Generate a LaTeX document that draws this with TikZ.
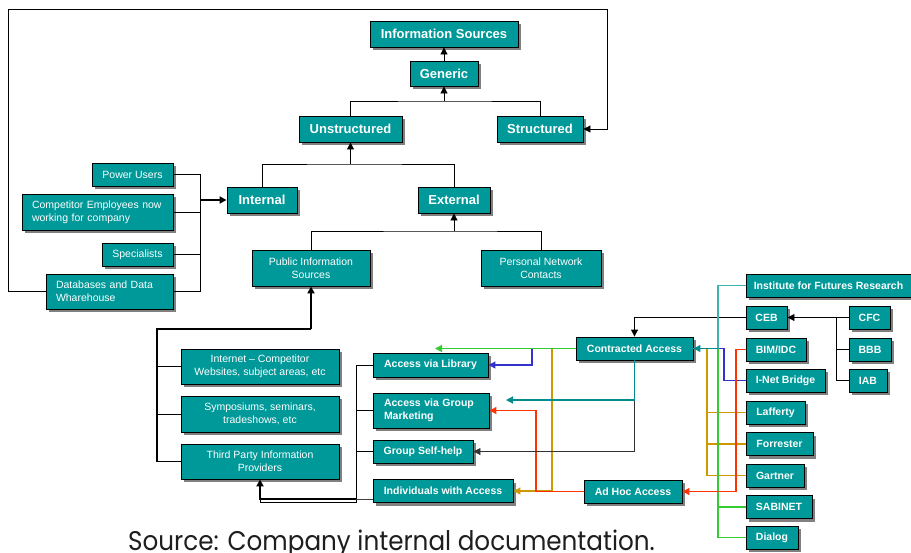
\documentclass[tikz,border=0pt]{standalone}
\usepackage{fontspec}
\setmainfont{Liberation Sans}
\newfontfamily\capfont{Poppins}
\usetikzlibrary{arrows.meta,shadows}
\definecolor{boxteal}{RGB}{0,153,153}
\definecolor{shadowgray}{RGB}{128,128,128}
\definecolor{lgreen}{RGB}{51,204,51}
\definecolor{lteal}{RGB}{64,176,176}
\definecolor{lblue}{RGB}{51,51,204}
\definecolor{lgold}{RGB}{204,153,0}
\definecolor{lred}{RGB}{255,51,0}
\definecolor{dteal}{RGB}{0,140,140}
\definecolor{captext}{RGB}{30,30,30}
\begin{document}
\begin{tikzpicture}[x=1pt,y=-1pt,
  boxbase/.style={draw=black, line width=0.9pt, fill=boxteal, text=white, inner sep=0pt, align=center,
    drop shadow={shadow xshift=3pt, shadow yshift=-3pt, fill=shadowgray, opacity=1}},
  bigbox/.style={boxbase, font=\bfseries\fontsize{13}{15}\selectfont},
  smbox/.style={boxbase, font=\bfseries\fontsize{10.5}{12.6}\selectfont},
  rgbox/.style={boxbase, font=\fontsize{10.5}{12.6}\selectfont},
  ln/.style={draw=black, line width=0.9pt},
  thk/.style={draw=black, line width=2.2pt},
  cl/.style={line width=1.2pt},
  arr/.style={-{Triangle[length=7pt,width=7pt]}},
]
\useasboundingbox (0,0) rectangle (911,552);

% top hierarchy
\node[bigbox, minimum width=148, minimum height=26] (is) at (444,34) {Information Sources};
\node[bigbox, minimum width=68, minimum height=25] (gen) at (444,73.5) {Generic};
\node[bigbox, minimum width=103, minimum height=26] (uns) at (350.5,129) {Unstructured};
\node[bigbox, minimum width=86, minimum height=26] (str) at (540,129) {Structured};
\node[bigbox, minimum width=70, minimum height=26] (int) at (262,200) {Internal};
\node[bigbox, minimum width=72, minimum height=26] (ext) at (454,200) {External};

% internal sources
\node[rgbox, minimum width=81, minimum height=23] (pu) at (132.5,174.5) {Power Users};
\node[rgbox, text width=131, inner xsep=10pt, align=left, minimum height=36] (ce) at (97.5,212) {Competitor Employees now\\working for company};
\node[rgbox, minimum width=71, minimum height=23] (sp) at (137.5,254.5) {Specialists};
\node[rgbox, text width=107, inner xsep=10pt, align=left, minimum height=35] (db) at (109.5,291.5) {Databases and Data\\Wharehouse};

% external sources
\node[rgbox, minimum width=118, minimum height=36] (pis) at (311,268) {Public Information\\Sources};
\node[rgbox, minimum width=120, minimum height=36] (pnc) at (541,268) {Personal Network\\Contacts};

\node[rgbox, minimum width=158, minimum height=35] (inet) at (260,366.5) {Internet -- Competitor\\Websites, subject areas, etc};
\node[rgbox, minimum width=158, minimum height=36] (sym) at (260,414) {Symposiums, seminars,\\tradeshows, etc};
\node[rgbox, minimum width=158, minimum height=35] (tpp) at (260,461.5) {Third Party Information\\Providers};

% access
\node[smbox, minimum width=115, minimum height=24] (avl) at (430.5,365) {Access via Library};
\node[smbox, text width=94, inner xsep=11pt, align=left, minimum height=35] (avg) at (431,410.5) {Access via Group\\Marketing};
\node[smbox, minimum width=100, minimum height=23] (gsh) at (423,451.5) {Group Self-help};
\node[smbox, minimum width=140, minimum height=23] (iwa) at (443,491) {Individuals with Access};
\node[smbox, minimum width=117, minimum height=23] (ca) at (634.5,348.5) {Contracted Access};
\node[smbox, minimum width=98, minimum height=23] (ah) at (633,491.5) {Ad Hoc Access};

% providers
\node[smbox, minimum width=165, minimum height=23] (ifr) at (828.5,285.5) {Institute for Futures Research};
\node[smbox, minimum width=41, minimum height=23] (ceb) at (766.5,317.5) {CEB};
\node[smbox, minimum width=41, minimum height=23] (cfc) at (869.5,317.5) {CFC};
\node[smbox, minimum width=42, minimum height=23] (bbb) at (870,349.5) {BBB};
\node[smbox, minimum width=38, minimum height=23] (iab) at (868,380.5) {IAB};
\node[smbox, minimum width=60, minimum height=23] (bim) at (776,349.5) {BIM/IDC};
\node[smbox, minimum width=79, minimum height=23] (inb) at (785.5,380.5) {I-Net Bridge};
\node[smbox, minimum width=59, minimum height=23] (laf) at (775.5,412.5) {Lafferty};
\node[smbox, minimum width=67, minimum height=23] (for) at (779.5,444) {Forrester};
\node[smbox, minimum width=58, minimum height=23] (gar) at (775,475.5) {Gartner};
\node[smbox, minimum width=66, minimum height=23] (sab) at (779,507) {SABINET};
\node[smbox, minimum width=52, minimum height=23] (dia) at (772,537.5) {Dialog};

% caption
\node[font=\capfont\fontsize{27}{30}\selectfont, text=captext, anchor=base west, inner sep=0pt] (cap) at (128,550.5) {\scalebox{0.913}[1]{Source: Company internal documentation.}};

% ---- connectors: top
\draw[ln,arr] (gen.north) -- (is.south);
\coordinate (j1) at (444,101);
\draw[ln] (uns.north) |- (j1) -| (str.north);
\draw[ln,arr] (j1) -- (gen.south);
\coordinate (lpa) at (8.5,9);
\coordinate (lpb) at (607,9);
\draw[ln,arr] (db.west) -| (lpa) -- (lpb) |- (str.east);
\coordinate (j2) at (350.5,164);
\draw[ln] (int.north) |- (j2) -| (ext.north);
\draw[ln,arr] (j2) -- (uns.south);

% internal bracket
\coordinate (b1) at (200,174.5);
\coordinate (b2) at (200,291.5);
\coordinate (b3) at (200,200);
\draw[ln] (pu.east) -- (b1) -- (b2) -- (db.east);
\draw[ln] (ce.east) -- (ce.east -| b1);
\draw[ln] (sp.east) -- (sp.east -| b1);
\draw[thk,arr] (b3) -- (int.west);

% external
\coordinate (j3) at (454,231);
\draw[ln] (pis.north) |- (j3) -| (pnc.north);
\draw[ln,arr] (j3) -- (ext.south);

% public information bracket
\coordinate (p1) at (311,329);
\coordinate (p2) at (157,329);
\coordinate (p3) at (157,461.5);
\draw[thk] (p3) -- (p2) -- (p1);
\draw[thk,arr] (p1) -- (pis.south);
\draw[ln] (inet.west) -- (inet.west -| p2);
\draw[ln] (sym.west) -- (sym.west -| p2);
\draw[ln] (tpp.west) -- (tpp.west -| p2);

% access bracket to third party
\coordinate (q1) at (356,365);
\coordinate (q2) at (356,502.5);
\coordinate (q3) at (260,502.5);
\coordinate (q4) at (260,499);
\coordinate (q5) at (356,499);
\draw[ln] (avl.west) -- (q1) -- (q2) -- (q3) -- (q4);
\draw[ln] (avg.west) -- (avg.west -| q1);
\draw[ln] (gsh.west) -- (gsh.west -| q1);
\draw[ln, draw=black!75] (q5 -| iwa.west) -- (q5);
\draw[thk,arr] (q5) -- (q4) -- (tpp.south);

% CEB group
\draw[ln,arr] (ceb.west) -| (ca.north);
\coordinate (c1) at (836,317.5);
\draw[ln,arr] (cfc.west) -- (ceb.east);
\draw[ln] (iab.west) -| (c1);
\draw[ln] (bbb.west) -- (bbb.west -| c1);

% coloured connectors
\coordinate (gx) at (707,348.5);
\coordinate (tx) at (718,348.5);
\coordinate (bx) at (724,348.5);
\coordinate (gl) at (552,348.5);
\coordinate (bl) at (532,348.5);
\coordinate (gr) at (435,348.5);
\coordinate (r1) at (736,491.5);
\coordinate (r2) at (536,491.5);
\coordinate (k1) at (634.5,400);
\coordinate (k2) at (506,400);

% gold
\draw[cl,lgold] (gar.west) -| (gx) -- (ca.east);
\draw[cl,lgold] (laf.west) -- (laf.west -| gx);
\draw[cl,lgold] (for.west) -- (for.west -| gx);
\draw[cl,lgold] (ca.west) -- (gl);
\draw[cl,lgold,arr] (gl) |- (iwa.east);
% blue
\draw[cl,lblue] (inb.west) -| (bx) -- (ca.east);
\draw[cl,lblue] (ca.west) -- (bl);
\draw[cl,lblue,arr] (bl) |- (avl.east);
% green
\draw[cl,lgreen] (dia.west) -| (tx) -- (ca.east);
\draw[cl,lgreen] (sab.west) -- (sab.west -| tx);
\draw[cl,lgreen,arr] (ca.west) -- (gr);
% teal from institute
\draw[cl,lteal] (ifr.west) -| (tx);
\draw[cl,dteal,arr] (tx) -- (ca.east);
% red
\draw[cl,lred,arr] (bim.west) -| (r1) -- (ah.east);
\draw[cl,lred,arr] (ah.west) -- (r2) |- (avg.east);
% contracted access downward
\draw[ln,draw=black!80,arr] (k1) |- (gsh.east);
\draw[cl,dteal,arr] (ca.south) |- (k2);
\end{tikzpicture}
\end{document}
